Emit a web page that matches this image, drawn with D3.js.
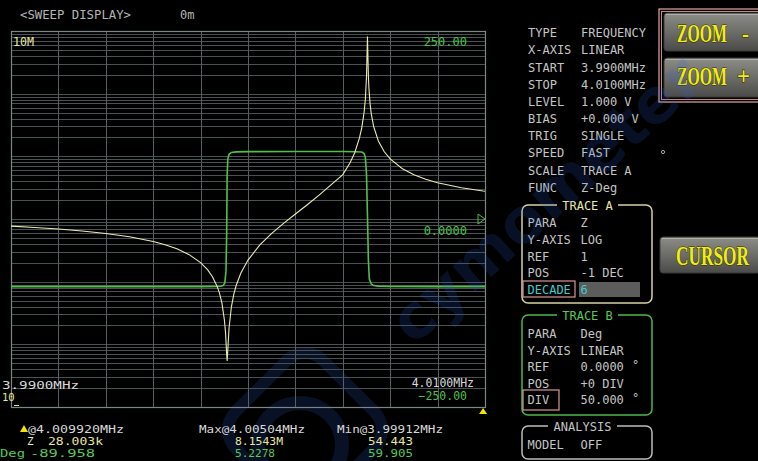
<!DOCTYPE html>
<html><head><meta charset="utf-8">
<script src="https://cdn.jsdelivr.net/npm/d3@7"></script>
<style>html,body{margin:0;padding:0;background:#000;overflow:hidden}svg{display:block}</style>
</head><body>
<svg id="c" width="758" height="461"></svg>
<script>
const zFreqMHz = [3.99000,3.99100,3.99200,3.99300,3.99400,3.99500,3.99600,3.99650,3.99700,3.99750,3.99800,3.99830,3.99850,3.99870,3.99880,3.99890,3.99900,3.99905,3.99910,3.99912,3.99915,3.99920,3.99930,3.99940,3.99950,3.99970,4.00000,4.00050,4.00100,4.00150,4.00200,4.00250,4.00300,4.00350,4.00400,4.00430,4.00450,4.00470,4.00480,4.00490,4.00495,4.00500,4.00504,4.00508,4.00510,4.00515,4.00520,4.00530,4.00550,4.00575,4.00600,4.00650,4.00700,4.00750,4.00800,4.00900,4.00992,4.01000];
const zOhm = [7683,7328,6918,6440,5876,5199,4373,3887,3341,2722,2016,1541,1201,839,650,454,251.7,158,69.2,54.443,84.4,182,397,629,869,1376,2212,3851,5896,8518,12003,16860,24098,35000,51000,78000,113000,195000,285000,510000,800000,1862000,8154300,1888000,1263000,694500,481500,301200,175700,118300,90800,64000,50900,43200,38000,31600,28003,27790];
const degFreqMHz = [3.99000,3.99200,3.99400,3.99600,3.99800,3.99870,3.99885,3.99895,3.99902,3.99907,3.99910,3.99912,3.99915,3.99920,3.99930,3.99950,4.00000,4.00200,4.00400,4.00450,4.00480,4.00490,4.00495,4.00500,4.00504,4.00508,4.00512,4.00520,4.00530,4.00550,4.00600,4.00800,4.00992,4.01000];
const degVal = [-89.90,-89.92,-89.93,-89.93,-89.90,-89.8,-89.5,-88.5,-85,-70,-20,59.905,80,86,88.5,89.3,89.6,89.8,89.7,89.5,89,87,82,60,5.2278,-55,-80,-86.5,-88.5,-89.3,-89.7,-89.9,-89.958,-89.96];
const freqDomain = [3.99, 4.01];
const zDomain = [10, 1e7];
const degDomain = [-250, 250];
const cursorMHz = 4.00992;

const infoLabels = ["TYPE","X-AXIS","START","STOP","LEVEL","BIAS","TRIG","SPEED","SCALE","FUNC"];
const infoValues = ["FREQUENCY","LINEAR","3.9900MHz","4.0100MHz","1.000 V","+0.000 V","SINGLE","FAST","TRACE A","Z-Deg"];
const traceALabels = ["PARA","Y-AXIS","REF","POS","DECADE"];
const traceAValues = ["Z","LOG","1","-1 DEC","6"];
const traceBLabels = ["PARA","Y-AXIS","REF","POS","DIV"];
const traceBValues = ["Deg","LINEAR","0.0000","+0 DIV","50.000"];

// ---- drawing ----
const svg = d3.select("#c");
const MONO = "'DejaVu Sans Mono', monospace";
svg.append("rect").attr("width",758).attr("height",461).attr("fill","#000");

const L=11, R=485, T=31, B=407;
const x = d3.scaleLinear().domain(freqDomain).range([L,R]);
const yZ = d3.scaleLog().domain(zDomain).range([B,T]);
const yD = d3.scaleLinear().domain(degDomain).range([B,T]);

// faint watermark logo (drawn under everything)
const wm = svg.append("g").attr("opacity",0.17).attr("pointer-events","none");
wm.append("rect").attr("x",-62).attr("y",-62).attr("width",124).attr("height",124).attr("rx",26)
  .attr("transform","translate(305,430) rotate(45)").attr("fill","none").attr("stroke","#2f63e0").attr("stroke-width",12);
wm.append("circle").attr("cx",300).attr("cy",445).attr("r",42).attr("fill","none").attr("stroke","#2f63e0").attr("stroke-width",14);

const grid = svg.append("g");
grid.selectAll("line.h").data(yZ.ticks()).join("line")
  .attr("x1",L).attr("x2",R).attr("y1",d=>Math.round(yZ(d))+0.5).attr("y2",d=>Math.round(yZ(d))+0.5)
  .attr("stroke","#485252").attr("stroke-width",1);
grid.selectAll("line.v").data(x.ticks(10)).join("line")
  .attr("y1",T).attr("y2",B).attr("x1",d=>Math.round(x(d))+0.5).attr("x2",d=>Math.round(x(d))+0.5)
  .attr("stroke","#566060").attr("stroke-width",1);
grid.append("rect").attr("x",L+0.5).attr("y",T+0.5).attr("width",R-L).attr("height",B-T)
  .attr("fill","none").attr("stroke","#7c8686").attr("stroke-width",1.2);

const lineZ = d3.line().x((d,i)=>x(zFreqMHz[i])).y(d=>yZ(d));
const lineD = d3.line().x((d,i)=>x(degFreqMHz[i])).y(d=>yD(d));
svg.append("path").attr("d",lineD(degVal)).attr("fill","none").attr("stroke","#52c04a").attr("stroke-width",1.6);
svg.append("path").attr("d",lineZ(zOhm)).attr("fill","none").attr("stroke","#ecebb0").attr("stroke-width",1.1);

function txt(s, xx, yy, col, opt={}) {
  const t = svg.append("text").attr("x",xx).attr("y",yy).attr("fill",col)
    .attr("font-family",opt.font||MONO).attr("font-size",opt.size||12).text(s);
  if (opt.anchor) t.attr("text-anchor",opt.anchor);
  if (opt.len) t.attr("textLength",opt.len).attr("lengthAdjust","spacingAndGlyphs");
  return t;
}
// header
txt("<SWEEP DISPLAY>", 20, 19, "#b4b4b4", {len:111});
txt("0m", 180, 19, "#b4b4b4");
// plot labels
txt(yZ.tickFormat(1, "~s")(zDomain[1]).replace(/\s/,""), 13, 46, "#e6e6a0", {len:21});
txt(d3.format(".2f")(degDomain[1]), 467, 46, "#4cc04c", {anchor:"end"});
txt(d3.format(".4f")(0), 467, 235, "#4cc04c", {anchor:"end"});
txt(d3.format(".4f")(freqDomain[0])+"MHz", 2, 389, "#d8d8d8", {len:77, size:10.5});
txt(String(zDomain[0]), 2, 401, "#e6e6a0", {size:10.5});
txt(d3.format(".4f")(freqDomain[1])+"MHz", 474, 387, "#d8d8d8", {anchor:"end", size:11.5});
txt(d3.format(".2f")(degDomain[0]), 467, 400, "#4cc04c", {anchor:"end", size:11.5});
svg.append("line").attr("x1",14).attr("x2",19).attr("y1",405.5).attr("y2",405.5).attr("stroke","#e6e6a0");
// right-edge trace B reference marker
svg.append("path").attr("d",`M${R-7},${yD(0)-5}L${R},${yD(0)}L${R-7},${yD(0)+5}Z`)
  .attr("fill","none").attr("stroke","#4cc04c").attr("stroke-width",1);
// cursor marker
const cx = x(cursorMHz);
svg.append("path").attr("d",`M${cx},${B+1}L${cx+4},${B+7}L${cx-4},${B+7}Z`).attr("fill","#f2e400");

// bottom readouts
const BS = 11;
svg.append("path").attr("d","M24,425L28,432L20,432Z").attr("fill","#f2e400");
txt("@"+cursorMHz.toFixed(6)+"MHz", 28, 433, "#d8d8d8", {len:96, size:BS});
txt("Z", 27, 445, "#e6e6c8", {size:BS});
txt("28.003k", 48, 445, "#e6e6a0", {len:55, size:BS});
txt("Deg", 0, 457, "#58c858", {len:25, size:BS});
txt("-89.958", 30, 457, "#58c858", {len:65, size:BS});
txt("Max@4.00504MHz", 199, 433, "#d8d8d8", {len:106, size:BS});
txt("8.1543M", 235, 445, "#e6e6a0", {len:48, size:BS});
txt("5.2278", 235, 457, "#58c858", {len:40, size:BS});
txt("Min@3.99912MHz", 337, 433, "#d8d8d8", {len:106, size:BS});
txt("54.443", 368, 445, "#e6e6a0", {len:45, size:BS});
txt("59.905", 368, 457, "#58c858", {len:45, size:BS});

// info panel
infoLabels.forEach((s,i)=>{
  txt(s, 528, 37.3+i*17.15, "#c4c4c4");
  txt(infoValues[i], 581, 37.3+i*17.15, "#c4c4c4");
});

function box(x0,y0,x1,y1,col,title,titleCol,tx0,tx1){
  svg.append("rect").attr("x",x0).attr("y",y0).attr("width",x1-x0).attr("height",y1-y0)
    .attr("rx",6).attr("fill","none").attr("stroke",col).attr("stroke-width",1.5);
  svg.append("rect").attr("x",tx0-5).attr("y",y0-3).attr("width",tx1-tx0+10).attr("height",6).attr("fill","#000");
  txt(title, (tx0+tx1)/2, y0+4.5, titleCol, {anchor:"middle"});
}
box(522,205,652,303,"#d8d2a4","TRACE A","#eae6a8",562,613);
traceALabels.forEach((s,i)=>{
  const yy = 227+i*16.75;
  if (i===4){
    svg.append("rect").attr("x",579).attr("y",282).attr("width",61).attr("height",15).attr("fill","#5c5c5c");
    svg.append("rect").attr("x",523).attr("y",281).attr("width",52).attr("height",16).attr("fill","none").attr("stroke","#d89898").attr("stroke-width",1.2);
    txt(s, 527.5, yy, "#40cccc"); txt(traceAValues[i], 580.5, yy, "#40cccc");
  } else { txt(s, 527.5, yy, "#c4c4c4"); txt(traceAValues[i], 580.5, yy, "#c4c4c4"); }
});
box(522,315,652,415,"#4cb84c","TRACE B","#58c858",562,613);
traceBLabels.forEach((s,i)=>{
  const yy = 338+i*16.6;
  txt(s, 527.5, yy, "#c4c4c4"); txt(traceBValues[i], 580.5, yy, "#c4c4c4");
  if (i===2||i===4) txt("°", 632, yy-2, "#c4c4c4");
  if (i===4) svg.append("rect").attr("x",523).attr("y",390).attr("width",36).attr("height",20).attr("fill","none").attr("stroke","#d89898").attr("stroke-width",1.2);
});
box(522,426,652,459,"#bcbcbc","ANALYSIS","#c4c4c4",553,612);
txt("MODEL", 527.5, 449, "#c4c4c4"); txt("OFF", 580.5, 449, "#c4c4c4");

// buttons
const defs = svg.append("defs");
const g = defs.append("linearGradient").attr("id","btn").attr("x1",0).attr("y1",0).attr("x2",0).attr("y2",1);
g.append("stop").attr("offset",0).attr("stop-color","#8e8e88");
g.append("stop").attr("offset",0.5).attr("stop-color","#6c6c68");
g.append("stop").attr("offset",1).attr("stop-color","#4a4a48");
svg.append("rect").attr("x",659).attr("y",9).attr("width",110).attr("height",93).attr("fill","none").attr("stroke","#e2a8a8").attr("stroke-width",1.2);
svg.append("rect").attr("x",661.5).attr("y",11.5).attr("width",110).attr("height",88).attr("fill","none").attr("stroke","#c88888").attr("stroke-width",1);
function button(x0,y0,w,h){
  svg.append("rect").attr("x",x0).attr("y",y0).attr("width",w).attr("height",h).attr("rx",3).attr("fill","url(#btn)")
    .attr("stroke","#3a3a38").attr("stroke-width",1);
  svg.append("line").attr("x1",x0+2).attr("x2",x0+w).attr("y1",y0+1.5).attr("y2",y0+1.5).attr("stroke","#b0b0a8");
}
// condensed yellow button lettering: natural font for height, horizontal scale to the measured width
function btnText(s, xx, yy, size, width){
  const t = svg.append("text").attr("x",0).attr("y",0).attr("fill","#f0ec18")
    .attr("font-family","'Liberation Serif', serif").attr("font-size",size).attr("font-weight","bold")
    .attr("stroke","#303000").attr("stroke-width",1.2).attr("paint-order","stroke").attr("stroke-linejoin","round")
    .text(s);
  const w = t.node().getComputedTextLength();
  t.attr("transform",`translate(${xx},${yy}) scale(${width/w},1)`);
  return t;
}
button(664,13,100,38);
btnText("ZOOM", 677, 42, 26, 50); btnText("-", 742, 42, 26, 7);
button(664,58,100,39);
btnText("ZOOM", 677, 85, 26, 50); btnText("+", 737, 85, 26, 13);
button(660,237,100,36);
btnText("CURSOR", 676, 265, 27, 73);
svg.append("circle").attr("cx",663).attr("cy",152).attr("r",1.6).attr("fill","none").attr("stroke","#aaa");

// watermark lettering
svg.append("text").attr("opacity",0.16).attr("transform","translate(560,215) rotate(-42)")
  .attr("text-anchor","middle").attr("font-family","'DejaVu Sans', sans-serif").attr("font-weight","bold")
  .attr("font-size",62).attr("fill","#2f63e0").text("cymometer");
</script>
</body></html>
